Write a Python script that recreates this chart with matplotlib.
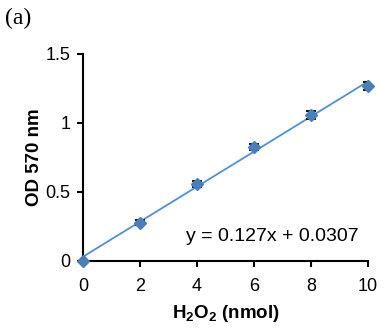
import matplotlib
matplotlib.use('Agg')
import matplotlib.pyplot as plt
import numpy as np

plt.rcParams['font.family'] = ['Liberation Sans', 'DejaVu Sans']
plt.rcParams['mathtext.fontset'] = 'custom'
plt.rcParams['mathtext.rm'] = 'Liberation Sans:bold'
plt.rcParams['mathtext.bf'] = 'Liberation Sans:bold'

# data
h2o2 = [0, 2, 4, 6, 8, 10]
od = [0.0, 0.278, 0.558, 0.826, 1.058, 1.268]
err = [0.0, 0.017, 0.02, 0.025, 0.029, 0.029]
slope, intercept = 0.127, 0.0307

fig = plt.figure(figsize=(3.87, 3.35), dpi=100)
ax = fig.add_axes([0.2145, 0.221, 0.7365, 0.618])

xfit = np.array([0, 10])
ax.plot(xfit, slope * xfit + intercept, color='#4f8fd6', lw=1.3, zorder=2)
ax.errorbar(h2o2, od, yerr=err, fmt='none', ecolor='black', elinewidth=1.3,
            capsize=3.5, capthick=1.3, zorder=3)
ax.plot(h2o2, od, 'D', color='#4a7ebb', ms=6.5, mec='#4a7ebb', zorder=4, clip_on=False)

ax.set_xlim(0, 10)
ax.set_ylim(0, 1.5)
ax.set_xticks([0, 2, 4, 6, 8, 10])
ax.set_yticks([0, 0.5, 1, 1.5])
ax.set_yticklabels(['0', '0.5', '1', '1.5'])
ax.spines['top'].set_visible(False)
ax.spines['right'].set_visible(False)
for s in ['left', 'bottom']:
    ax.spines[s].set_linewidth(1.5)
ax.tick_params(direction='out', length=4, width=1.5, labelsize=13)
ax.tick_params(axis='x', pad=8)
ax.tick_params(axis='y', pad=5)

ax.set_ylabel('OD 570 nm', fontsize=13.5, fontweight='bold', labelpad=2)
ax.set_xlabel(r'H$_2$O$_2$ (nmol)', fontsize=13.5, fontweight='bold', labelpad=6)

ax.text(3.6, 0.18, 'y = 0.127x + 0.0307', fontsize=14, va='center', ha='left')
fig.text(0.013, 0.945, '(a)', fontsize=17, family='Liberation Serif', va='center')

fig.savefig('out.png', dpi=100)
